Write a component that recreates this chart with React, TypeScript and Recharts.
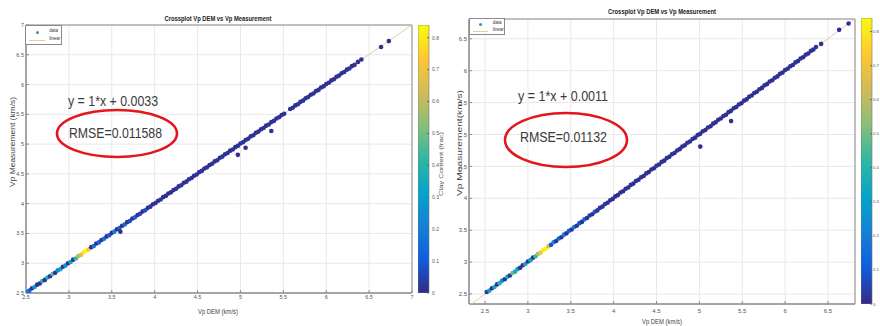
import React from 'react';
import { ScatterChart, Scatter, XAxis, YAxis, CartesianGrid, ReferenceArea, Legend, Cell, BarChart, Bar } from 'recharts';

const FONT = 'Liberation Sans, Arial, sans-serif';

// parula-like colour map for clay content
const parula = ['#352a87', '#0f5cdd', '#1481d6', '#06a4ca', '#2eb7a4', '#87bf77', '#d1bb59', '#fec832', '#f9fb0e'];

const clayMax = 0.84;
const clayTicks = [0, 0.1, 0.2, 0.3, 0.4, 0.5, 0.6, 0.7, 0.8];

const leftTicks = [2.5, 3, 3.5, 4, 4.5, 5, 5.5, 6, 6.5, 7];
const rightTicks = [2.5, 3, 3.5, 4, 4.5, 5, 5.5, 6, 6.5];
const leftXDomain = [2.5, 7];
const leftYDomain = [2.5, 7];
const rightXDomain = [2.313, 6.815];
const rightYDomain = [2.343, 6.81];

// [Vp DEM, Vp measurement, clay content]
const leftRows = [
  [2.51, 2.52, 0.25], [2.54, 2.54, 0.12], [2.57, 2.58, 0.02], [2.6, 2.6, 0.3], [2.63, 2.64, 0.02],
  [2.66, 2.66, 0.01], [2.69, 2.7, 0.4], [2.72, 2.72, 0.01], [2.75, 2.76, 0.36], [2.78, 2.78, 0.03],
  [2.81, 2.82, 0.46], [2.84, 2.84, 0.01], [2.87, 2.88, 0.22], [2.9, 2.9, 0.33], [2.93, 2.94, 0.01],
  [2.96, 2.96, 0.28], [2.99, 3.0, 0.01], [3.02, 3.02, 0.34], [3.05, 3.06, 0.02], [3.08, 3.08, 0.42],
  [3.11, 3.12, 0.56], [3.14, 3.14, 0.66], [3.17, 3.18, 0.79], [3.2, 3.21, 0.83], [3.23, 3.23, 0.72],
  [3.26, 3.27, 0.01], [3.29, 3.29, 0.18], [3.32, 3.33, 0.01], [3.35, 3.35, 0.14], [3.38, 3.39, 0.02],
  [3.41, 3.41, 0.17], [3.44, 3.45, 0.01], [3.47, 3.47, 0.11], [3.5, 3.51, 0.01], [3.53, 3.53, 0.19],
  [3.56, 3.57, 0.02], [3.59, 3.59, 0.13], [3.6, 3.53, 0.01], [3.62, 3.63, 0.01], [3.65, 3.65, 0.15],
  [3.68, 3.69, 0.01], [3.71, 3.71, 0.08], [3.74, 3.75, 0.01], [3.77, 3.77, 0.12], [3.8, 3.81, 0.02],
  [3.83, 3.83, 0.05], [3.86, 3.87, 0.01], [3.89, 3.89, 0.08], [3.92, 3.93, 0.01], [3.95, 3.95, 0.03],
  [3.98, 3.99, 0.01], [4.01, 4.01, 0.02], [4.04, 4.05, 0.01], [4.07, 4.07, 0.04], [4.1, 4.11, 0.01],
  [4.13, 4.13, 0.02], [4.16, 4.17, 0.01], [4.19, 4.19, 0.02], [4.22, 4.23, 0.01], [4.25, 4.25, 0.02],
  [4.28, 4.29, 0.01], [4.31, 4.31, 0.02], [4.34, 4.35, 0.01], [4.37, 4.37, 0.02], [4.4, 4.41, 0.01],
  [4.43, 4.43, 0.02], [4.46, 4.47, 0.01], [4.49, 4.49, 0.02], [4.52, 4.53, 0.01], [4.55, 4.55, 0.02],
  [4.58, 4.59, 0.01], [4.61, 4.61, 0.02], [4.64, 4.65, 0.01], [4.67, 4.67, 0.02], [4.7, 4.71, 0.01],
  [4.73, 4.73, 0.02], [4.76, 4.77, 0.01], [4.79, 4.79, 0.02], [4.82, 4.83, 0.01], [4.85, 4.85, 0.02],
  [4.88, 4.89, 0.01], [4.91, 4.91, 0.02], [4.94, 4.95, 0.01], [4.97, 4.82, 0.01], [4.97, 4.97, 0.02],
  [5.0, 5.01, 0.01], [5.03, 5.03, 0.02], [5.06, 4.94, 0.01], [5.06, 5.07, 0.01], [5.09, 5.09, 0.02],
  [5.12, 5.13, 0.01], [5.15, 5.15, 0.02], [5.18, 5.19, 0.01], [5.21, 5.21, 0.02], [5.24, 5.25, 0.01],
  [5.27, 5.27, 0.02], [5.3, 5.31, 0.01], [5.33, 5.33, 0.02], [5.36, 5.22, 0.01], [5.36, 5.37, 0.01],
  [5.39, 5.39, 0.02], [5.42, 5.43, 0.01], [5.45, 5.45, 0.02], [5.48, 5.49, 0.01], [5.51, 5.51, 0.02],
  [5.58, 5.59, 0.01], [5.61, 5.61, 0.02], [5.64, 5.65, 0.01], [5.67, 5.67, 0.02], [5.7, 5.71, 0.01],
  [5.73, 5.73, 0.02], [5.76, 5.77, 0.01], [5.79, 5.79, 0.02], [5.82, 5.83, 0.01], [5.85, 5.85, 0.02],
  [5.88, 5.89, 0.01], [5.91, 5.91, 0.02], [5.94, 5.95, 0.01], [5.97, 5.97, 0.02], [6.0, 6.01, 0.01],
  [6.03, 6.03, 0.02], [6.06, 6.07, 0.01], [6.09, 6.09, 0.02], [6.12, 6.13, 0.01], [6.15, 6.15, 0.02],
  [6.18, 6.19, 0.01], [6.21, 6.21, 0.02], [6.24, 6.25, 0.01], [6.27, 6.27, 0.02], [6.3, 6.31, 0.01],
  [6.33, 6.33, 0.02], [6.37, 6.38, 0.01], [6.41, 6.42, 0.01], [6.64, 6.63, 0.01], [6.73, 6.73, 0.01],
];

const rightRows = [
  [2.52, 2.53, 0.02], [2.55, 2.55, 0.3], [2.58, 2.59, 0.01], [2.61, 2.61, 0.36], [2.64, 2.65, 0.02],
  [2.67, 2.67, 0.4], [2.7, 2.71, 0.28], [2.73, 2.73, 0.01], [2.76, 2.77, 0.34], [2.79, 2.79, 0.02],
  [2.82, 2.83, 0.5], [2.85, 2.85, 0.38], [2.88, 2.89, 0.3], [2.91, 2.91, 0.01], [2.94, 2.95, 0.01],
  [2.97, 2.97, 0.36], [3.0, 3.01, 0.02], [3.03, 3.03, 0.32], [3.06, 3.07, 0.01], [3.09, 3.09, 0.44],
  [3.12, 3.13, 0.58], [3.15, 3.15, 0.7], [3.18, 3.19, 0.8], [3.21, 3.21, 0.83], [3.24, 3.25, 0.66],
  [3.27, 3.27, 0.08], [3.3, 3.31, 0.22], [3.33, 3.33, 0.01], [3.36, 3.37, 0.16], [3.39, 3.39, 0.01],
  [3.42, 3.43, 0.2], [3.45, 3.45, 0.02], [3.48, 3.49, 0.12], [3.51, 3.51, 0.01], [3.54, 3.55, 0.18],
  [3.57, 3.57, 0.02], [3.6, 3.61, 0.1], [3.63, 3.63, 0.01], [3.66, 3.67, 0.14], [3.69, 3.69, 0.01],
  [3.72, 3.73, 0.05], [3.75, 3.75, 0.01], [3.78, 3.79, 0.08], [3.81, 3.81, 0.01], [3.84, 3.85, 0.03],
  [3.87, 3.87, 0.01], [3.9, 3.91, 0.04], [3.93, 3.93, 0.01], [3.96, 3.97, 0.02], [3.99, 3.99, 0.01],
  [4.02, 4.03, 0.02], [4.05, 4.05, 0.01], [4.08, 4.09, 0.02], [4.11, 4.11, 0.01], [4.14, 4.15, 0.02],
  [4.17, 4.17, 0.01], [4.2, 4.21, 0.02], [4.23, 4.23, 0.01], [4.26, 4.27, 0.02], [4.29, 4.29, 0.01],
  [4.32, 4.33, 0.02], [4.35, 4.35, 0.01], [4.38, 4.39, 0.02], [4.41, 4.41, 0.01], [4.44, 4.45, 0.02],
  [4.47, 4.47, 0.01], [4.5, 4.51, 0.02], [4.53, 4.53, 0.01], [4.56, 4.57, 0.02], [4.59, 4.59, 0.01],
  [4.62, 4.63, 0.02], [4.65, 4.65, 0.01], [4.68, 4.69, 0.02], [4.71, 4.71, 0.01], [4.74, 4.75, 0.02],
  [4.77, 4.77, 0.01], [4.8, 4.81, 0.02], [4.83, 4.83, 0.01], [4.86, 4.87, 0.02], [4.89, 4.89, 0.01],
  [4.92, 4.93, 0.02], [4.95, 4.95, 0.01], [4.98, 4.99, 0.02], [5.01, 4.81, 0.01], [5.01, 5.01, 0.01],
  [5.04, 5.05, 0.02], [5.07, 5.07, 0.01], [5.1, 5.11, 0.02], [5.13, 5.13, 0.01], [5.16, 5.17, 0.02],
  [5.19, 5.19, 0.01], [5.22, 5.23, 0.02], [5.25, 5.25, 0.01], [5.28, 5.29, 0.02], [5.31, 5.31, 0.01],
  [5.34, 5.35, 0.02], [5.37, 5.21, 0.01], [5.37, 5.37, 0.01], [5.4, 5.41, 0.02], [5.43, 5.43, 0.01],
  [5.46, 5.47, 0.02], [5.49, 5.49, 0.01], [5.52, 5.53, 0.02], [5.55, 5.55, 0.01], [5.58, 5.59, 0.02],
  [5.61, 5.61, 0.01], [5.64, 5.65, 0.02], [5.67, 5.67, 0.01], [5.7, 5.71, 0.02], [5.73, 5.73, 0.01],
  [5.76, 5.77, 0.02], [5.79, 5.79, 0.01], [5.82, 5.83, 0.02], [5.85, 5.85, 0.01], [5.88, 5.89, 0.02],
  [5.91, 5.91, 0.01], [5.94, 5.95, 0.02], [5.97, 5.97, 0.01], [6.0, 6.01, 0.02], [6.03, 6.03, 0.01],
  [6.06, 6.07, 0.02], [6.09, 6.09, 0.01], [6.12, 6.13, 0.02], [6.15, 6.15, 0.01], [6.18, 6.19, 0.02],
  [6.21, 6.21, 0.01], [6.24, 6.25, 0.02], [6.27, 6.27, 0.01], [6.3, 6.31, 0.02], [6.33, 6.33, 0.01],
  [6.36, 6.37, 0.02], [6.42, 6.42, 0.01], [6.63, 6.64, 0.01], [6.74, 6.74, 0.01],
];

// linear fit end points (y = 1*x + b)
const leftFit = [{ dem: 2.5, meas: 2.5033 }, { dem: 6.99, meas: 6.9933 }];
const rightFit = [{ dem: 2.34, meas: 2.3411 }, { dem: 6.8, meas: 6.8011 }];

type Pt = { dem: number; meas: number; clay: number };
const toPts = (rows: number[][]): Pt[] => rows.map(([dem, meas, clay]) => ({ dem, meas, clay }));

function hexToRgb(h: string) {
  const n = parseInt(h.slice(1), 16);
  return [(n >> 16) & 255, (n >> 8) & 255, n & 255];
}

function clayColor(v: number) {
  const t = Math.max(0, Math.min(1, v / clayMax)) * (parula.length - 1);
  const i = Math.min(Math.floor(t), parula.length - 2);
  const f = t - i;
  const a = hexToRgb(parula[i]);
  const b = hexToRgb(parula[i + 1]);
  const c = a.map((x, k) => Math.round(x + (b[k] - x) * f));
  return `rgb(${c[0]},${c[1]},${c[2]})`;
}

const Dot = (props: any) => {
  const { cx, cy, fill } = props;
  if (cx == null || cy == null) return <g />;
  return <circle cx={cx} cy={cy} r={2.3} fill={fill} />;
};

const LegendBox = ({ w, h, fs }: { w: number; h: number; fs: number }) => (
  <div
    style={{
      width: w, height: h, boxSizing: 'border-box', border: '1px solid #8a8a8a', background: '#fff',
      fontFamily: FONT, fontSize: fs, color: '#333', position: 'relative',
    }}
  >
    <span style={{ position: 'absolute', left: w * 0.3 - 1.5, top: h * 0.3 - 1.5, width: 3, height: 3, borderRadius: 2, background: '#2a9d9a' }} />
    <span style={{ position: 'absolute', left: w * 0.63, top: h * 0.3 - fs * 0.6, lineHeight: 1 }}>data</span>
    <span style={{ position: 'absolute', left: 3, top: h * 0.7, width: w * 0.42, height: 1, background: '#e2cf9c' }} />
    <span style={{ position: 'absolute', left: w * 0.63, top: h * 0.7 - fs * 0.6, lineHeight: 1 }}>linear</span>
  </div>
);

interface PanelProps {
  rows: number[][];
  fit: { dem: number; meas: number }[];
  xDomain: number[];
  yDomain: number[];
  ticks: number[];
  margin: { top: number; right: number; bottom: number; left: number };
  yAxisW: number;
  xAxisH: number;
  xTickGap: number;
  legend: { left: number; top: number; w: number; h: number };
  tickFs: number;
}

function Panel({ rows, fit, xDomain, yDomain, ticks, margin, yAxisW, xAxisH, xTickGap, legend, tickFs }: PanelProps) {
  const pts = toPts(rows);
  const tickStyle = { fontSize: tickFs, fill: '#555', fontFamily: FONT };
  return (
    <ScatterChart width={440} height={326} margin={margin}>
      <CartesianGrid stroke="#e8e8e8" />
      <XAxis
        type="number" dataKey="dem" domain={xDomain} ticks={ticks} allowDataOverflow interval={0}
        height={xAxisH} tickSize={-3} tickMargin={xTickGap} tick={tickStyle}
        axisLine={{ stroke: '#8c8c8c' }} tickLine={{ stroke: '#8c8c8c' }}
      />
      <YAxis
        type="number" dataKey="meas" domain={yDomain} ticks={ticks} allowDataOverflow interval={0}
        width={yAxisW} tickSize={-3} tickMargin={5} tick={tickStyle}
        axisLine={{ stroke: '#8c8c8c' }} tickLine={{ stroke: '#8c8c8c' }}
      />
      <ReferenceArea x1={xDomain[0]} x2={xDomain[1]} y1={yDomain[0]} y2={yDomain[1]} fill="none" stroke="#8c8c8c" fillOpacity={0} />
      <Scatter name="linear" data={fit} line={{ stroke: '#e2cf9c', strokeWidth: 1 }} shape={() => <g />} isAnimationActive={false} />
      <Scatter name="data" data={pts} shape={Dot} isAnimationActive={false}>
        {pts.map((p, i) => (
          <Cell key={i} fill={clayColor(p.clay)} />
        ))}
      </Scatter>
      <Legend
        layout="vertical" align="center" verticalAlign="middle"
        wrapperStyle={{ left: legend.left, top: legend.top, width: legend.w, height: legend.h }}
        content={() => <LegendBox w={legend.w} h={legend.h} fs={4.5} />}
      />
    </ScatterChart>
  );
}

function ColorBar({ top, bottom, fs, gap }: { top: number; bottom: number; fs: number; gap: number }) {
  return (
    <BarChart width={40} height={326} data={[{ name: 'clay', v: clayMax }]} margin={{ top, right: 0, bottom, left: 0 }} barCategoryGap={0}>
      <XAxis dataKey="name" hide />
      <YAxis
        orientation="right" width={29} domain={[0, clayMax]} ticks={clayTicks} allowDataOverflow interval={0}
        tickSize={-2} tickMargin={gap} axisLine={false} tickLine={{ stroke: '#666' }}
        tick={{ fontSize: fs, fill: '#555', fontFamily: FONT, textAnchor: 'start' }}
      />
      <Bar dataKey="v" fill="url(#clayGrad)" stroke="#777" strokeWidth={0.6} isAnimationActive={false} />
    </BarChart>
  );
}

export default function App() {
  return (
    <div style={{ position: 'absolute', left: 0, top: 0, width: 880, height: 326, overflow: 'hidden', background: '#fff' }}>
      <svg width={0} height={0} style={{ position: 'absolute' }}>
        <defs>
          <linearGradient id="clayGrad" x1="0" y1="1" x2="0" y2="0">
            {parula.map((c, i) => (
              <stop key={i} offset={i / (parula.length - 1)} stopColor={c} />
            ))}
          </linearGradient>
        </defs>
      </svg>

      <div style={{ position: 'absolute', left: 0, top: 0 }}>
        <Panel
          rows={leftRows} fit={leftFit} xDomain={leftXDomain} yDomain={leftYDomain} ticks={leftTicks}
          margin={{ top: 25, right: 28, bottom: 0, left: 0 }} yAxisW={26} xAxisH={33} xTickGap={5}
          legend={{ left: 25, top: 25, w: 37, h: 20 }} tickFs={5.5}
        />
      </div>
      <div style={{ position: 'absolute', left: 418, top: 0 }}>
        <ColorBar top={25} bottom={33} fs={5} gap={5} />
      </div>

      <div style={{ position: 'absolute', left: 440, top: 0 }}>
        <Panel
          rows={rightRows} fit={rightFit} xDomain={rightXDomain} yDomain={rightYDomain} ticks={rightTicks}
          margin={{ top: 19, right: 25, bottom: 0, left: 0 }} yAxisW={29} xAxisH={22} xTickGap={8}
          legend={{ left: 29, top: 18, w: 36, h: 17 }} tickFs={6}
        />
      </div>
      <div style={{ position: 'absolute', left: 861, top: 0 }}>
        <ColorBar top={18} bottom={22} fs={4.3} gap={3} />
      </div>

      <svg width={880} height={326} style={{ position: 'absolute', left: 0, top: 0, pointerEvents: 'none' }} fontFamily={FONT}>
        <text x={218} y={21} textAnchor="middle" fontSize={6.5} fontWeight="bold" fill="#222" textLength={107} lengthAdjust="spacingAndGlyphs">
          Crossplot Vp DEM vs Vp Measurement
        </text>
        <text x={662} y={14} textAnchor="middle" fontSize={6.5} fontWeight="bold" fill="#222" textLength={108} lengthAdjust="spacingAndGlyphs">
          Crossplot Vp DEM vs Vp Measurement
        </text>
        <text x={218} y={314} textAnchor="middle" fontSize={6.5} fill="#444" textLength={40} lengthAdjust="spacingAndGlyphs">Vp DEM (km/s)</text>
        <text x={662} y={324} textAnchor="middle" fontSize={6.5} fill="#444" textLength={40} lengthAdjust="spacingAndGlyphs">Vp DEM (km/s)</text>
        <text transform="translate(15,142) rotate(-90)" textAnchor="middle" fontSize={7} fill="#444" textLength={90} lengthAdjust="spacingAndGlyphs">
          Vp Measurement (km/s)
        </text>
        <text transform="translate(462,143) rotate(-90)" textAnchor="middle" fontSize={7} fill="#444" textLength={106} lengthAdjust="spacingAndGlyphs">
          Vp Measurement(km/s)
        </text>
        <text transform="translate(443,164) rotate(-90)" textAnchor="middle" fontSize={5} fill="#555" textLength={64} lengthAdjust="spacingAndGlyphs">
          Clay Content (frac)
        </text>

        <text x={68} y={106} fontSize={14.5} fill="#3a3a3a" textLength={90} lengthAdjust="spacingAndGlyphs">y = 1*x + 0.0033</text>
        <text x={69} y={138} fontSize={14.5} fill="#3a3a3a" textLength={93} lengthAdjust="spacingAndGlyphs">RMSE=0.011588</text>
        <ellipse cx={117} cy={133.5} rx={60} ry={23.5} fill="none" stroke="#e3161d" strokeWidth={2.6} />

        <text x={518} y={101} fontSize={14.5} fill="#3a3a3a" textLength={90} lengthAdjust="spacingAndGlyphs">y = 1*x + 0.0011</text>
        <text x={520} y={142} fontSize={14.5} fill="#3a3a3a" textLength={87} lengthAdjust="spacingAndGlyphs">RMSE=0.01132</text>
        <ellipse cx={566} cy={140} rx={61} ry={27} fill="none" stroke="#e3161d" strokeWidth={2.6} />
      </svg>
    </div>
  );
}
